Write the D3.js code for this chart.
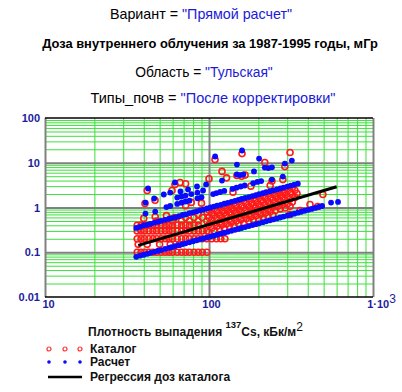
<!DOCTYPE html>
<html>
<head>
<meta charset="utf-8">
<script src="https://cdnjs.cloudflare.com/ajax/libs/d3/7.8.5/d3.min.js"></script>
<style>
  body { margin: 0; background: #fff; }
  svg { display: block; font-family: Arial, "Liberation Sans", sans-serif; }
</style>
</head>
<body>
<svg id="chart"></svg>
<script>
const navy = "#1c1c9c";
const blueText = "#1a1ad8";
const green = "#3ce03c";

// y tick labels and x tick labels
const yTicks = [0.01, 0.1, 1, 10, 100];
const yTickLabels = ["0.01", "0.1", "1", "10", "100"];
const xTicks = [10, 100, 1000];
const xTickLabels = ["10", "100", "1·10"];

// Расчет: upper dense band
const calcUpper = [[36,0.35],[38,0.37],[40,0.40],[42,0.41],[44,0.43],[46.5,0.46],[49,0.48],[51,0.50],[54,0.53],[57,0.56],[59,0.58],[62,0.60],[65.5,0.64],[69,0.68],[72,0.70],[76,0.75],[80,0.78],[84,0.82],[88,0.86],[92,0.90],[97,0.95],[102,1.0],[107,1.05],[112,1.1],[118,1.15],[124,1.22],[130,1.27],[137,1.34],[144,1.41],[151,1.48],[158,1.55],[166,1.63],[175,1.71],[184,1.8],[193,1.89],[202,1.98],[213,2.09],[223,2.19],[235,2.3],[246,2.41],[259,2.54],[272,2.67],[285,2.79],[300,2.94],[315,3.09],[331,3.24],[348,3.41]];

// Расчет: lower dense band
const calcLower = [[36,0.079],[38,0.084],[40,0.088],[42,0.092],[44,0.097],[46.5,0.102],[49,0.108],[51,0.112],[54,0.119],[57,0.125],[59,0.130],[62,0.136],[65.5,0.144],[69,0.152],[72,0.158],[76,0.167],[80,0.176],[84,0.185],[88,0.194],[92,0.202],[97,0.213],[102,0.224],[107,0.235],[112,0.246],[118,0.26],[124,0.273],[130,0.286],[137,0.301],[144,0.317],[151,0.332],[158,0.348],[166,0.365],[175,0.385],[184,0.405],[193,0.425],[202,0.444],[213,0.469],[223,0.491],[235,0.517],[246,0.541],[259,0.570],[272,0.598],[285,0.627],[300,0.66],[315,0.693],[331,0.728],[348,0.766],[365,0.803],[384,0.845],[403,0.887],[423,0.93],[444,0.977],[467,1.03],[490,1.08]];

// Расчет: sparse middle band
const calcMiddle = [[55,1.02],[58,1.08],[64,1.2],[68,1.28],[72,1.36],[76,1.42],[85,1.6],[90,1.7],[106,2.0],[111,2.1],[117,2.22],[124,2.35],[139,2.6],[147,2.78],[156,2.95],[165,3.1],[186,3.5],[197,3.72],[208,3.9]];

// Расчет: scattered points
const calcScatter = [[41,0.73],[47,0.81],[41,1.29],[42.5,2.66],[46.3,1.59],[53,1.95],[58,2.16],[62,3.62],[64,1.67],[68,1.75],[72,1.85],[78,2.0],[85,2.15],[92,2.4],[67,2.28],[74.5,2.53],[84.5,2.95],[96,3.27],[109,13.8],[120,4.0],[148,9.1],[148,5.46],[155,5.3],[162,5.5],[159,18.8],[188,6.4],[202,12.4],[219,7.8],[230,7.6],[242,7.9],[242,4.2],[282,4.9],[290,9.6],[320,11.2],[555,1.29],[612,1.33]];

// Каталог: quantized values at low density
const catalogLow = [[36.5,0.1],[38.5,0.1],[40.5,0.1],[43,0.1],[45.5,0.1],[48,0.1],[51,0.1],[54,0.1],[57,0.1],[60,0.1],[64,0.1],[68,0.1],[72,0.1],[76,0.1],[81,0.1],[86,0.1],[91,0.1],[97,0.1],
  [37,0.15],[42,0.15],[50,0.15],[58,0.15],[66,0.15],
  [36.5,0.2],[38.5,0.2],[40.5,0.2],[43,0.2],[45.5,0.2],[48,0.2],[51,0.2],[54,0.2],[57,0.2],[60,0.2],[64,0.2],[68,0.2],[72,0.2],[76,0.2],[81,0.2],[86,0.2],[91,0.2],[97,0.2],[104,0.2],[111,0.2],[118,0.2],[125,0.2],
  [36.5,0.3],[38.5,0.3],[40.5,0.3],[43,0.3],[45.5,0.3],[48,0.3],[51,0.3],[54,0.3],[57,0.3],[60,0.3],[64,0.3],[68,0.3],[72,0.3],[76,0.3],[81,0.3],[86,0.3],[91,0.3],[97,0.3],
  [36.5,0.4],[38.5,0.4],[40.5,0.4],[43,0.4],[45.5,0.4],[48,0.4],[51,0.4],[54,0.4],[57,0.4],[60,0.4],[64,0.4],[68,0.4],[72,0.4],[76,0.4],[81,0.4],[86,0.4],
  [48,0.5],[54,0.5],[60,0.5],[68,0.5],[76,0.5],[86,0.5],[97,0.5],
  [62,0.6],[72,0.6],[81,0.6],[91,0.6],[86,0.7],[97,0.8]];

// Каталог: dense region at higher density
const catalogBand = [[100,0.87],[108,0.95],[116,1.03],[124,1.08],[133,1.18],[142,1.24],[152,1.35],[163,1.42],[175,1.55],[187,1.63],[200,1.78],[214,1.86],[229,2.02],[245,2.12],[263,2.33],[281,2.45],[301,2.66],[322,2.8],
  [104,0.74],[112,0.82],[120,0.85],[128,0.93],[137,0.98],[147,1.07],[157,1.12],[169,1.23],[181,1.29],[193,1.4],[207,1.48],[221,1.6],[237,1.69],[254,1.84],[272,1.95],[291,2.1],[312,2.22],[334,2.42],
  [100,0.6],[108,0.66],[116,0.69],[124,0.75],[133,0.79],[142,0.86],[152,0.9],[163,0.99],[175,1.04],[187,1.13],[200,1.19],[214,1.3],[229,1.36],[245,1.48],[263,1.56],[281,1.7],[301,1.78],[322,1.95],[344,2.05],
  [104,0.52],[112,0.57],[120,0.59],[128,0.65],[137,0.68],[147,0.74],[157,0.78],[169,0.86],[181,0.9],[193,0.98],[207,1.03],[221,1.12],[237,1.18],[254,1.28],[272,1.35],[291,1.47],[312,1.55],[334,1.68],
  [100,0.41],[108,0.45],[116,0.47],[124,0.51],[133,0.54],[142,0.59],[152,0.62],[163,0.67],[175,0.71],[187,0.78],[200,0.81],[214,0.89],[229,0.93],[245,1.01],[263,1.07],[281,1.17],[301,1.22],[322,1.33],
  [104,0.35],[112,0.38],[120,0.41],[128,0.43],[137,0.47],[147,0.5],[157,0.54],[169,0.57],[181,0.62],[193,0.65],[207,0.71],[221,0.75],[237,0.81],[254,0.86],[272,0.93],[291,0.98],[312,1.07],
  [100,0.28],[108,0.3],[116,0.33],[124,0.34],[133,0.38],[142,0.39],[152,0.43],[163,0.45],[175,0.49],[187,0.52],[200,0.56],[214,0.59],[229,0.64],[245,0.68]];

// Каталог: scattered points
const catalogHigh = [[40.7,1.23],[42,2.4],[46.9,1.45],[59.5,2.4],[62,3.27],[66.6,3.62],[72,3.4],[40,0.57],[47,0.62],[55,0.66],[72,1.1],[78,1.3],[90,1.25],[108.8,11.8],[120,6.4],[159,16],[148,5.2],[158,5.0],[166,5.3],[219,10.1],[242,3.9],[282,4.2],[290,8.2],[312,16.9],[282,2.16],[311,0.7],[359,0.86],[413,1.17],[460,1.05],[495,1.95],[100,4.4],[128,4.6],[140,2.2],[180,3.0],[236,3.1]];

// Регрессия доз каталога
const regression = [[37,0.142],[600,2.9]];

const svg = d3.select("#chart").attr("width", 402).attr("height", 392);

const plot = { left: 45, right: 373, top: 118, bottom: 297 };
const x = d3.scaleLog().domain([10, 1000]).range([plot.left, plot.right]);
const y = d3.scaleLog().domain([0.01, 100]).range([plot.bottom, plot.top]);

const isDecade = d => Math.abs(Math.log10(d) - Math.round(Math.log10(d))) < 1e-9;

// Titles
const titles = [
  { y: 19, parts: [["Вариант = ", "#000"], ["\"Прямой расчет\"", blueText]], size: 14.3, weight: "normal", cx: 201 },
  { y: 48, parts: [["Доза внутреннего облучения за 1987-1995 годы, мГр", "#000"]], size: 12.9, weight: "bold", cx: 210 },
  { y: 77, parts: [["Область = ", "#000"], ["\"Тульская\"", blueText]], size: 13.8, weight: "normal", cx: 204 },
  { y: 103, parts: [["Типы_почв = ", "#000"], ["\"После корректировки\"", blueText]], size: 14.5, weight: "normal", cx: 213 }
];
titles.forEach(t => {
  const txt = svg.append("text")
    .attr("x", t.cx)
    .attr("y", t.y)
    .attr("text-anchor", "middle")
    .style("font-size", t.size + "px")
    .style("font-weight", t.weight);
  t.parts.forEach(p => txt.append("tspan").attr("fill", p[1]).text(p[0]));
});

// Grid: minor green lines
const h = plot.bottom - plot.top, w = plot.right - plot.left;
svg.append("g")
  .attr("transform", `translate(0,${plot.bottom})`)
  .call(d3.axisBottom(x).tickValues(x.ticks().filter(d => !isDecade(d))).tickSize(-h).tickFormat(""))
  .call(g => g.select(".domain").remove())
  .selectAll("line").attr("stroke", green).attr("stroke-width", 1);

svg.append("g")
  .attr("transform", `translate(${plot.left},0)`)
  .call(d3.axisLeft(y).tickValues(y.ticks().filter(d => !isDecade(d))).tickSize(-w).tickFormat(""))
  .call(g => g.select(".domain").remove())
  .selectAll("line").attr("stroke", green).attr("stroke-width", 1);

// Grid: decade gray lines
svg.append("g")
  .attr("transform", `translate(0,${plot.bottom})`)
  .call(d3.axisBottom(x).tickValues(xTicks).tickSize(-h).tickFormat(""))
  .call(g => g.select(".domain").remove())
  .selectAll("line").attr("stroke", "#808080").attr("stroke-width", 2);

svg.append("g")
  .attr("transform", `translate(${plot.left},0)`)
  .call(d3.axisLeft(y).tickValues(yTicks.slice(1, -1)).tickSize(-w).tickFormat(""))
  .call(g => g.select(".domain").remove())
  .selectAll("line").attr("stroke", "#808080").attr("stroke-width", 2);

// top and bottom frame
svg.append("line").attr("x1", plot.left).attr("x2", plot.right).attr("y1", plot.top).attr("y2", plot.top)
  .attr("stroke", "#000").attr("stroke-width", 1.5);
svg.append("line").attr("x1", plot.left).attr("x2", plot.right).attr("y1", plot.bottom).attr("y2", plot.bottom)
  .attr("stroke", "#000").attr("stroke-width", 1.5);

// Axis labels
const yAxis = svg.append("g")
  .attr("transform", `translate(${plot.left},0)`)
  .call(d3.axisLeft(y).tickValues(yTicks).tickSize(0).tickPadding(5)
    .tickFormat((d, i) => yTickLabels[i]));
yAxis.select(".domain").remove();
yAxis.selectAll("text")
  .attr("fill", navy)
  .style("font-size", "11px")
  .style("font-weight", "bold")
  .style("font-family", "Arial, 'Liberation Sans', sans-serif");

const xAxis = svg.append("g")
  .attr("transform", `translate(0,${plot.bottom})`)
  .call(d3.axisBottom(x).tickValues(xTicks).tickSize(0).tickPadding(3)
    .tickFormat((d, i) => xTickLabels[i]));
xAxis.select(".domain").remove();
xAxis.selectAll("text")
  .attr("fill", navy)
  .style("font-size", "11px")
  .style("font-weight", "bold")
  .style("font-family", "Arial, 'Liberation Sans', sans-serif")
  .attr("dx", (d, i) => [3, 2, 8][i]);
xAxis.selectAll("text").filter(d => d === 1000)
  .append("tspan")
  .attr("dy", "-5")
  .style("font-size", "12px")
  .style("font-weight", "normal")
  .text("3");

// Catalog points (open red circles)
const catalog = catalogLow.concat(catalogBand, catalogHigh);
svg.append("g").selectAll("circle")
  .data(catalog)
  .join("circle")
  .attr("cx", d => x(d[0]))
  .attr("cy", d => y(d[1]))
  .attr("r", 3)
  .attr("fill", "none")
  .attr("stroke", "#ff1a1a")
  .attr("stroke-width", 1.6);

// Calculated points (blue dots)
const calc = calcUpper.concat(calcLower, calcMiddle, calcScatter);
svg.append("g").selectAll("circle")
  .data(calc)
  .join("circle")
  .attr("cx", d => x(d[0]))
  .attr("cy", d => y(d[1]))
  .attr("r", 2.9)
  .attr("fill", "#0a0aff");

// Regression line
svg.append("path")
  .datum(regression)
  .attr("fill", "none")
  .attr("stroke", "#000")
  .attr("stroke-width", 3)
  .attr("d", d3.line().x(d => x(d[0])).y(d => y(d[1])));

// X axis title
const xt = svg.append("text")
  .attr("x", 88)
  .attr("y", 336)
  .style("font-size", "12px")
  .style("font-weight", "bold")
  .attr("fill", "#111");
xt.append("tspan").text("Плотность выпадения  ");
xt.append("tspan").attr("dy", -8).style("font-size", "9.5px").text("137");
xt.append("tspan").attr("dy", 8).text("Cs, кБк/м");
xt.append("tspan").attr("dy", -5).style("font-size", "12px").style("font-weight", "normal").text("2");

// Legend
const legendItems = [
  { label: "Каталог", kind: "circle", y: 349 },
  { label: "Расчет", kind: "dot", y: 362 },
  { label: "Регрессия доз каталога", kind: "line", y: 377 }
];
const legend = svg.append("g");
legendItems.forEach(it => {
  const g = legend.append("g").attr("transform", `translate(0,${it.y})`);
  if (it.kind === "line") {
    g.append("line").attr("x1", 48).attr("x2", 82).attr("stroke", "#000").attr("stroke-width", 2.5);
  } else {
    [49, 65, 80].forEach(cx => {
      if (it.kind === "circle") {
        g.append("circle").attr("cx", cx).attr("r", 2).attr("fill", "none").attr("stroke", "#ff3030").attr("stroke-width", 1.2);
      } else {
        g.append("circle").attr("cx", cx).attr("r", 1.8).attr("fill", "#0a0aff");
      }
    });
  }
  g.append("text")
    .attr("x", 90)
    .attr("dy", "0.35em")
    .style("font-size", "12px")
    .style("font-weight", "bold")
    .attr("fill", "#111")
    .text(it.label);
});
</script>
</body>
</html>
